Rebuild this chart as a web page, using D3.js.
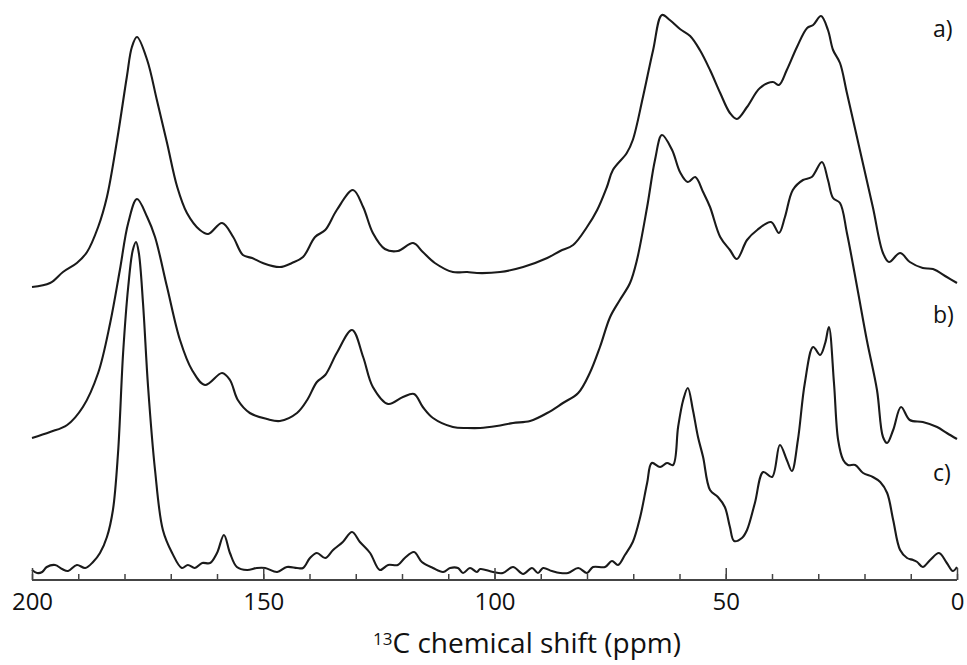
<!DOCTYPE html>
<html>
<head>
<meta charset="utf-8">
<script src="https://cdn.jsdelivr.net/npm/d3@7"></script>
<style>
  html, body { margin: 0; padding: 0; background: #fff; }
  svg { display: block; }
  text { font-family: "Open Sans", sans-serif; fill: #111; }
</style>
</head>
<body>
<svg id="chart" width="967" height="665"></svg>
<script>
// ---- data (chemical shift in ppm, intensity in arbitrary units) ----
const ppmA = [200.0,196.1,193.3,190.3,188.1,185.7,183.8,181.6,179.5,178.4,177.3,175.1,173.0,170.8,168.6,166.5,163.7,161.9,158.9,156.5,154.4,152.4,150.1,146.4,143.8,141.4,138.8,136.6,134.1,130.6,128.4,126.3,123.7,120.9,117.6,115.5,112.9,109.0,105.9,103.8,98.8,93.8,88.6,85.8,83.0,80.0,77.8,75.7,74.4,71.4,70.1,67.9,65.7,63.8,62.1,59.9,57.7,55.6,53.4,51.2,49.1,47.6,45.4,42.6,39.8,38.5,36.8,34.6,32.4,31.1,29.4,27.9,26.8,25.3,23.8,21.0,18.2,16.0,14.7,12.3,10.2,7.4,5.2,2.2,0.0];
const intA = [0.6,1.4,3.6,5.4,7.6,12.6,18.6,30,42.6,48.6,50.6,46,38,29.4,20.6,15.4,12,11.2,13.4,10.6,7,6.4,5.4,4.6,5.4,6.6,10.6,12,16,20,16.6,11.4,8.2,7.8,9.4,7.6,5.4,3.6,3.6,3.4,3.6,4.6,6.4,7.8,9,12.6,16,20.6,24,27.4,30,38.6,48,55,54,52.2,50.8,48,44,39.4,35.4,34.2,36.6,40.4,41.6,41,44,48.6,52.4,53,54.8,52,48,45.4,39.4,28,16.6,7.4,5.6,7.4,5.6,4.4,4.2,2.6,1.4];

const ppmB = [200.0,196.1,192.4,189.0,185.7,183.1,181.0,179.2,177.3,175.1,173.4,170.8,168.0,165.4,162.6,158.9,157.2,155.5,152.9,149.2,146.4,142.7,140.5,138.4,136.6,134.1,130.8,128.4,126.3,123.0,119.8,117.4,115.5,113.3,109.0,105.9,103.1,99.5,96.0,92.3,88.6,85.2,81.9,79.4,77.2,75.0,72.9,70.7,69.2,67.0,65.3,63.8,61.6,59.9,58.2,56.6,54.9,53.4,51.2,49.1,47.6,45.4,43.2,40.2,38.5,37.2,35.5,33.3,31.4,29.2,27.9,26.8,25.3,23.8,21.6,19.5,17.3,16.0,15.1,13.8,12.1,10.2,7.4,4.3,2.2,0.0];
const intB = [0.4,1.6,3,6.6,13.4,23.4,34,43.4,48.2,44.6,40.6,30.6,20,14,11,13.4,12,8,5.4,4.2,3.8,5.4,8,11.6,13,17.4,22,16.6,10.6,7.2,8.6,9.2,6.6,4.4,2.6,2.4,2.4,2.8,3.4,3.8,5.4,7.4,9.4,13.4,18.6,24.6,28,31.4,36,46.6,56,61,58,53.6,51.6,52.6,49.6,46.6,40.6,38,36.2,40,42,43.6,41.4,44.6,50,52,52.6,55.6,52,48.4,47.4,41.4,30.6,20,10,0.6,-0.6,2,6.6,4,3.6,2.6,1.4,0.2];

const ppmC = [200.0,198.9,197.8,196.8,195.0,193.5,192.2,190.3,188.5,186.8,185.3,183.8,182.5,181.4,180.3,179.2,178.2,177.5,176.9,176.0,174.9,173.4,171.7,169.7,167.6,166.3,164.8,163.2,161.5,160.0,158.5,157.2,155.7,153.5,151.4,149.6,147.0,144.9,142.7,141.4,139.9,138.4,136.6,134.9,132.8,130.8,129.1,126.9,124.8,123.0,120.9,119.4,117.4,115.7,113.3,111.1,109.6,107.9,106.8,105.3,103.8,103.1,100.3,98.2,96.0,93.8,91.9,90.6,89.5,87.6,85.8,84.1,81.9,80.0,78.7,76.1,74.6,73.3,71.8,70.1,68.5,67.0,66.0,64.2,62.7,61.4,60.3,59.2,58.2,57.1,56.0,54.9,53.4,51.7,50.2,49.1,48.2,46.5,45.4,43.7,41.9,40.0,38.3,36.8,35.7,34.4,32.9,31.1,29.6,28.5,27.7,26.6,25.7,24.6,23.6,22.0,20.3,18.2,16.6,15.1,13.8,12.3,10.8,9.5,8.6,7.4,5.8,3.9,2.2,0.9,0.0];
const intC = [2,1.4,1.6,2.6,3,2.2,1.8,3,2.4,3.6,5.4,8.6,14,25.4,45.4,58.6,66,67.6,65.4,55.4,38.6,22,10,5.4,2.4,3,2.4,3.4,3.4,5.4,9,5.4,2.6,2,2.4,2.4,1.6,2.6,2.4,2.4,4.4,5.4,4.4,6,7.6,9.6,7.6,5.4,2,3,3,4.4,5.6,3.6,2.4,1.6,2.4,2.4,1.4,2.4,1.6,2.2,1.6,1.4,2.6,1.2,2.4,1.4,2.4,1.8,1.4,1.4,2.4,1.4,2.6,2.6,3.8,3,5,7.6,12.6,19.4,23.4,22.6,23.4,23,30.6,36,38.4,34,28.6,24.6,18,16.6,14.6,10.6,7.8,8.4,10,15.4,21.6,20.6,27,24,21.8,28,39.4,46.6,45,47.4,50.6,39.4,28,24,23,23,21.4,20.6,19.6,17.4,12,6,4.4,4,3.6,2.6,4,5.4,3.4,1.8,2.6];

// stacking offsets of the three spectra (same intensity units)
const offsets = { a: 58, b: 28, c: 0 };
const seriesLabels = ["a)", "b)", "c)"];

const xTicksMajor = [200, 150, 100, 50, 0];
const xTicksMinor = d3.range(0, 201, 10);
const axisTitleSup = "13";
const axisTitleMain = "C chemical shift (ppm)";

// ---- layout ----
const svg = d3.select("#chart");
const x = d3.scaleLinear().domain([200, 0]).range([32, 957]);
const y = d3.scaleLinear().domain([0, 116]).range([580, 0]);

const spectra = [
  { key: "a", ppm: ppmA, val: intA, label: seriesLabels[0], labelY: 37 },
  { key: "b", ppm: ppmB, val: intB, label: seriesLabels[1], labelY: 323 },
  { key: "c", ppm: ppmC, val: intC, label: seriesLabels[2], labelY: 481 }
];

const line = d3.line()
  .x(d => x(d[0]))
  .y(d => y(d[1]))
  .curve(d3.curveCatmullRom.alpha(0.5));

spectra.forEach(s => {
  const pts = s.ppm.map((p, i) => [p, s.val[i] + offsets[s.key]]);
  svg.append("path")
    .datum(pts)
    .attr("d", line)
    .attr("fill", "none")
    .attr("stroke", "#1a1a1a")
    .attr("stroke-width", 2.1)
    .attr("stroke-linejoin", "round");
  svg.append("text")
    .attr("x", 933)
    .attr("y", s.labelY)
    .attr("font-size", 23)
    .text(s.label);
});

// ---- axis ----
const axisG = svg.append("g").attr("transform", "translate(0,580)");
axisG.append("g")
  .call(d3.axisTop(x).tickValues(xTicksMinor).tickSize(6).tickFormat(""))
  .call(g => g.select(".domain").remove())
  .selectAll("line").attr("stroke", "#444").attr("stroke-width", 1.5);
axisG.append("g")
  .call(d3.axisTop(x).tickValues(xTicksMajor).tickSize(12).tickFormat(""))
  .call(g => g.select(".domain").remove())
  .selectAll("line").attr("stroke", "#444").attr("stroke-width", 1.5);
axisG.append("line")
  .attr("x1", x(200)).attr("x2", x(0))
  .attr("y1", 0).attr("y2", 0)
  .attr("stroke", "#444").attr("stroke-width", 2);
axisG.append("g")
  .call(d3.axisBottom(x).tickValues(xTicksMajor).tickSize(0).tickPadding(0).tickFormat(d3.format("d")))
  .call(g => g.select(".domain").remove())
  .selectAll("text")
  .attr("dy", null)
  .attr("y", 30)
  .attr("font-size", 24)
  .attr("font-family", "Open Sans, sans-serif")
  .attr("fill", "#111");

// axis title
const title = svg.append("text")
  .attr("x", 527)
  .attr("y", 653)
  .attr("text-anchor", "middle")
  .attr("font-size", 28);
title.append("tspan").attr("font-size", 17).attr("dy", -8).text(axisTitleSup);
title.append("tspan").attr("dy", 8).text(axisTitleMain);
</script>
</body>
</html>
